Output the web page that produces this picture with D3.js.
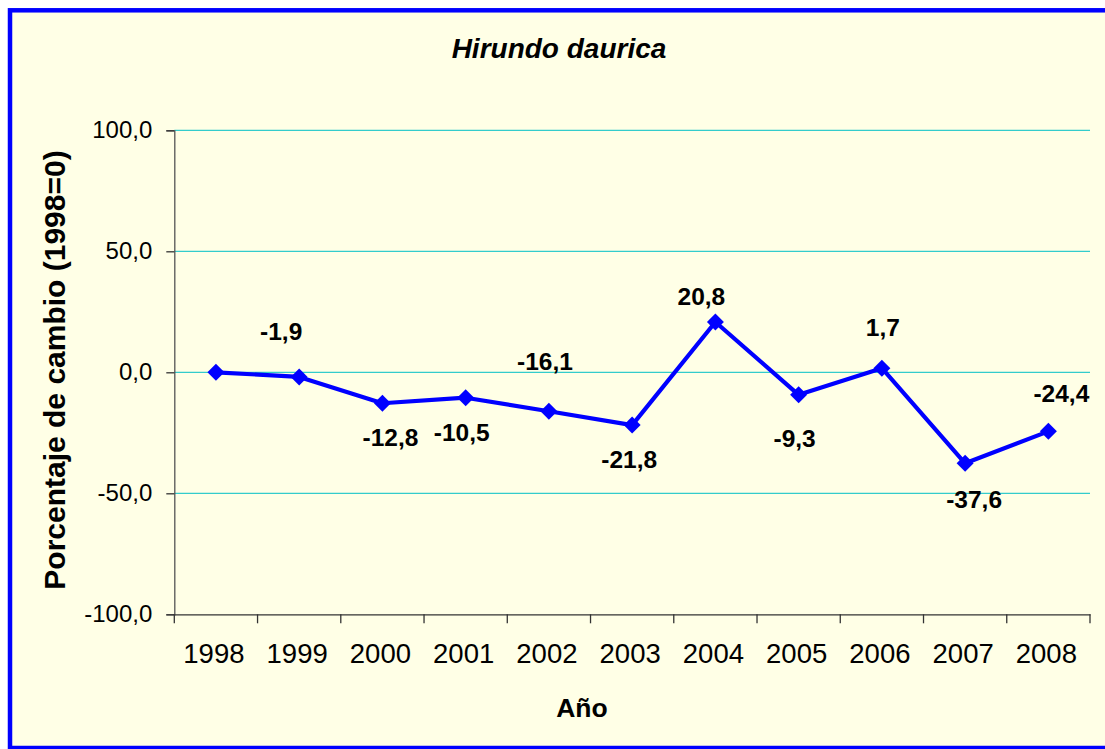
<!DOCTYPE html>
<html><head><meta charset="utf-8">
<script src="https://cdn.jsdelivr.net/npm/d3@7"></script>
<style>body{margin:0;background:#fff}svg{display:block}text{font-family:"Liberation Sans",Arial,sans-serif;fill:#000}</style>
</head><body><svg id="c" width="1105" height="749"></svg>
<script>
const years = ["1998","1999","2000","2001","2002","2003","2004","2005","2006","2007","2008"];
const values = [0, -1.9, -12.8, -10.5, -16.1, -21.8, 20.8, -9.3, 1.7, -37.6, -24.4];
const yTicks = [-100, -50, 0, 50, 100];
const title = "Hirundo daurica";
const xTitle = "Año";
const yTitle = "Porcentaje de cambio (1998=0)";
// label placement (dx, dy relative to point), not data
const labelPos = [null,[-18,-37],[8,43],[-4,43],[-4,-41],[-3,43],[-14,-17],[-4,52],[1,-32],[9,45],[13,-29]];

const svg = d3.select("#c");
svg.append("rect").attr("x",10).attr("y",10.3).attr("width",1110).attr("height",737.7)
  .attr("fill","#FFFFE6").attr("stroke","#0000FF").attr("stroke-width",4.5);

const L=174.3, R=1090, T=130.3, B=614.3;
const x = d3.scaleBand().domain(years).range([L,R]).padding(0);
const y = d3.scaleLinear().domain([-100,100]).range([B,T]);
const fmt = v => d3.format(".1f")(v).replace(".",",").replace("−","-");

// gridlines
svg.append("g").selectAll("line").data(yTicks.filter(t=>t>-100)).join("line")
  .attr("x1",L).attr("x2",R).attr("y1",d=>y(d)).attr("y2",d=>y(d))
  .attr("stroke","#33CCCC").attr("stroke-width",1.3);

// y axis
const ya = svg.append("g").attr("transform",`translate(${L},0)`)
  .call(d3.axisLeft(y).tickValues(yTicks).tickSize(8).tickPadding(14).tickFormat(fmt));
ya.select(".domain").attr("stroke","#555").attr("stroke-width",1.3);
ya.selectAll(".tick line").attr("stroke","#333").attr("stroke-width",1.3);
ya.selectAll("text").attr("font-size",24).attr("font-family","Liberation Sans, Arial").attr("fill","#000");

// x axis
const xa = svg.append("g").attr("transform",`translate(0,${B})`)
  .call(d3.axisBottom(x).tickSize(0).tickPadding(29));
xa.select(".domain").attr("stroke","#333").attr("stroke-width",1.3);
xa.selectAll("text").attr("font-size",27.5).attr("font-family","Liberation Sans, Arial").attr("fill","#000").attr("dx",-2);
// category boundary ticks
svg.append("g").selectAll("line").data(years.concat(["end"])).join("line")
  .attr("x1",(d,i)=> i<years.length ? x(d) : x(years[years.length-1])+x.bandwidth())
  .attr("x2",(d,i)=> i<years.length ? x(d) : x(years[years.length-1])+x.bandwidth())
  .attr("y1",B).attr("y2",B+9).attr("stroke","#333").attr("stroke-width",1.3);

// line
const cx = d => x(d)+x.bandwidth()/2;
svg.append("path").datum(values)
  .attr("d", d3.line().x((d,i)=>cx(years[i])).y(d=>y(d)))
  .attr("fill","none").attr("stroke","#0000FF").attr("stroke-width",4.2).attr("stroke-linejoin","round");
svg.append("g").selectAll("path").data(values).join("path")
  .attr("d", d3.symbol(d3.symbolSquare, 144))
  .attr("transform",(d,i)=>`translate(${cx(years[i])},${y(d)}) rotate(45)`)
  .attr("fill","#0000FF");

// data labels
svg.append("g").selectAll("text").data(values.map((v,i)=>({v,i})).filter(d=>labelPos[d.i]))
  .join("text")
  .attr("x",d=>cx(years[d.i])+labelPos[d.i][0]).attr("y",d=>y(d.v)+labelPos[d.i][1])
  .attr("text-anchor","middle").attr("font-size",24.5).attr("font-weight","bold")
  .text(d=>fmt(d.v));

// titles
svg.append("text").attr("x",559).attr("y",58).attr("text-anchor","middle")
  .attr("font-size",28).attr("font-weight","bold").attr("font-style","italic").text(title);
svg.append("text").attr("x",582).attr("y",717).attr("text-anchor","middle")
  .attr("font-size",26.5).attr("font-weight","bold").text(xTitle);
svg.append("text").attr("transform","translate(65,370) rotate(-90)").attr("text-anchor","middle")
  .attr("font-size",30).attr("font-weight","bold").text(yTitle);
</script></body></html>
